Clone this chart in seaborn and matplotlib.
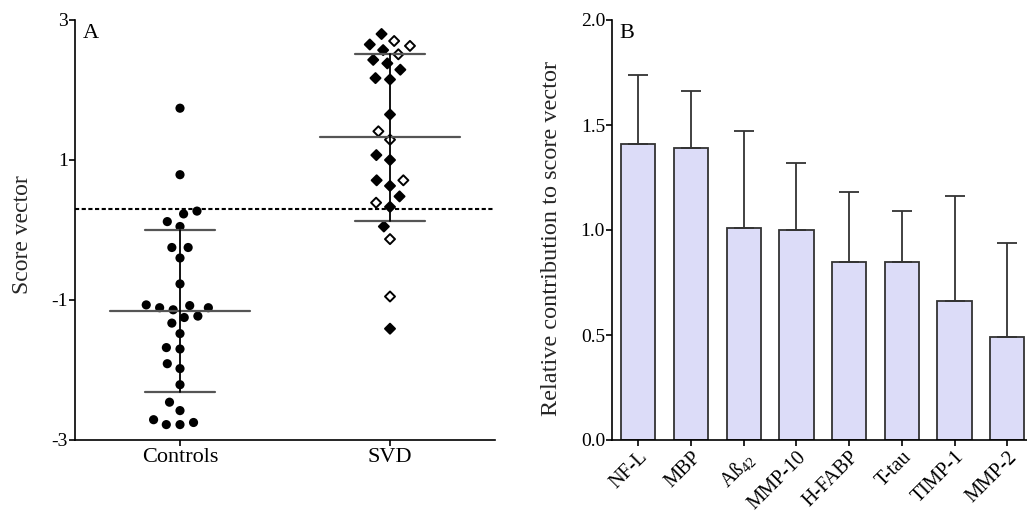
import numpy as np
import pandas as pd
import matplotlib
matplotlib.use("Agg")
import matplotlib.pyplot as plt
from matplotlib.path import Path
import seaborn as sns

# Panel A: score vector per subject
groups = ["Controls", "SVD"]
controls = [1.74, 0.79, 0.27, 0.23, 0.12, 0.05, -0.25, -0.25, -0.40, -0.77,
            -1.07, -1.08, -1.11, -1.11, -1.14, -1.23, -1.25, -1.33, -1.48,
            -1.68, -1.70, -1.91, -1.98, -2.21, -2.46, -2.58, -2.71, -2.75,
            -2.78, -2.78]
svd_filled = [2.80, 2.65, 2.57, 2.43, 2.38, 2.29, 2.17, 2.15, 1.65, 1.07,
              1.00, 0.71, 0.63, 0.48, 0.33, 0.05, -1.41]
svd_open = [2.70, 2.63, 2.51, 1.41, 1.29, 0.71, 0.39, -0.13, -0.95]
cutoff = 0.3

# Panel B: relative contribution of each marker
markers = ["NF-L", "MBP", "Aß$_{42}$", "MMP-10", "H-FABP", "T-tau", "TIMP-1", "MMP-2"]
contrib = [1.41, 1.39, 1.01, 1.00, 0.85, 0.85, 0.66, 0.49]
contrib_sd = [0.33, 0.27, 0.46, 0.32, 0.33, 0.24, 0.50, 0.45]

sns.set_style("ticks")
plt.rcParams["font.family"] = ["Liberation Serif", "DejaVu Serif"]
plt.rcParams["mathtext.fontset"] = "custom"
plt.rcParams["mathtext.rm"] = "Liberation Serif"
plt.rcParams["mathtext.it"] = "Liberation Serif:italic"
plt.rcParams["axes.unicode_minus"] = False
plt.rcParams["axes.linewidth"] = 1.2
plt.rcParams["axes.edgecolor"] = "black"
plt.rcParams["text.color"] = "black"
plt.rcParams["xtick.color"] = "black"
plt.rcParams["ytick.color"] = "black"

# diamond drawn a bit smaller than its box, so the swarm spreads wider
k = 0.42
diamond = Path([(0.5, 0), (0, k), (k, 0), (0, -k), (-k, 0), (0, k)],
               [Path.MOVETO, Path.MOVETO, Path.LINETO, Path.LINETO,
                Path.LINETO, Path.CLOSEPOLY])

W, H = 1027, 515
fig = plt.figure(figsize=(W / 100, H / 100), dpi=100)
axA = fig.add_axes([75 / W, 75 / H, 420 / W, 420 / H])
axB = fig.add_axes([612 / W, 75 / H, 421.6 / W, 420 / H])

# ---- Panel A
ctrl_df = pd.DataFrame({"group": "Controls", "score": controls})
sns.swarmplot(data=ctrl_df, x="group", y="score", order=groups, color="black",
              size=6.6, linewidth=2.8, edgecolor="none", ax=axA)

svd_df = pd.DataFrame({
    "group": "SVD",
    "score": svd_filled + svd_open,
    "kind": ["filled"] * len(svd_filled) + ["open"] * len(svd_open),
})
sns.swarmplot(data=svd_df, x="group", y="score", hue="kind", order=groups,
              palette={"filled": "black", "open": "white"}, marker=diamond,
              size=8.6, linewidth=1.4, edgecolor="black", legend=False, ax=axA)

for i, vals in enumerate([controls, svd_filled + svd_open]):
    m = np.mean(vals)
    sd = np.std(vals, ddof=1)
    axA.plot([i - 0.333, i + 0.333], [m, m], color="#555555", lw=1.6, zorder=4)
    axA.plot([i - 0.167, i + 0.167], [m - sd, m - sd], color="#555555", lw=1.6, zorder=4)
    axA.plot([i - 0.167, i + 0.167], [m + sd, m + sd], color="#555555", lw=1.6, zorder=4)
    axA.plot([i, i], [m - sd, m + sd], color="black", lw=1.3, zorder=4)

axA.axhline(cutoff, color="black", lw=1.5, ls=(0, (2, 1.2)), zorder=2)

axA.set_xlim(-0.5, 1.5)
axA.set_ylim(-3, 3)
axA.set_yticks([-3, -1, 1, 3])
axA.set_xlabel("")
axA.set_ylabel("Score vector", fontsize=17)
axA.yaxis.set_label_coords(-0.1, 0.49)
axA.tick_params(axis="y", labelsize=14, length=4, width=1.2, pad=1)
axA.tick_params(axis="x", labelsize=16, length=4, width=1.2, pad=2)
axA.text(0.019, 0.99, "A", transform=axA.transAxes, fontsize=16, va="top", ha="left")
sns.despine(ax=axA)

# ---- Panel B
b_df = pd.DataFrame({"marker": markers, "contrib": contrib})
sns.barplot(data=b_df, x="marker", y="contrib", color="#dcdcf8", saturation=1,
            edgecolor="#333333", linewidth=1.3, width=0.65, ax=axB)
axB.errorbar(np.arange(len(markers)), contrib,
             yerr=[np.zeros(len(markers)), contrib_sd], fmt="none",
             ecolor="#333333", elinewidth=1.3, capsize=7, capthick=1.3, zorder=1)

axB.set_xlim(-0.5, len(markers) - 0.5)
axB.set_ylim(0, 2.0)
axB.set_yticks([0.0, 0.5, 1.0, 1.5, 2.0])
axB.set_yticklabels([f"{v:.1f}" for v in [0.0, 0.5, 1.0, 1.5, 2.0]])
axB.set_xlabel("")
axB.set_ylabel("Relative contribution to score vector", fontsize=17.5)
axB.yaxis.set_label_coords(-0.119, 0.48)
axB.tick_params(axis="y", labelsize=14, length=4, width=1.2, pad=1)
axB.tick_params(axis="x", labelsize=14.5, length=4, width=1.2, pad=1.5)
plt.setp(axB.get_xticklabels(), rotation=45, ha="right", rotation_mode="anchor")
axB.text(0.017, 0.99, "B", transform=axB.transAxes, fontsize=16, va="top", ha="left")
sns.despine(ax=axB)

fig.savefig("out.png", dpi=100)
